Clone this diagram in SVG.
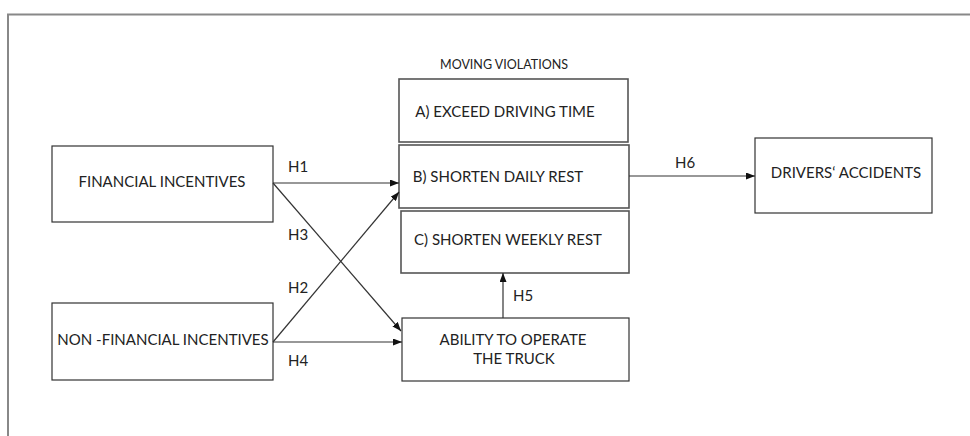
<svg xmlns="http://www.w3.org/2000/svg" width="970" height="436" viewBox="0 0 970 436">
<style>
.box{fill:#fff;stroke:#333;stroke-width:1.2}
.gbox{fill:#fff;stroke:#555;stroke-width:1.6}
.t{font-family:Lato,"Liberation Sans",sans-serif;font-size:15px;fill:#222}
.s{font-family:Lato,"Liberation Sans",sans-serif;font-size:12.5px;fill:#222}
.c{fill:none;stroke:#333;stroke-width:1.2}
</style>
<defs>
<marker id="ah" markerWidth="9" markerHeight="7" refX="9" refY="3.5" orient="auto" markerUnits="userSpaceOnUse">
<path d="M0,0 L9,3.5 L0,7 Z" fill="#111"/>
</marker>
</defs>
<rect width="970" height="436" fill="#fff"/>
<path d="M8,436 V14.5 H970" fill="none" stroke="#888" stroke-width="2"/>
<g id="financial">
<rect class="box" x="52" y="146" width="221" height="76"/>
<text class="t" x="162" y="187" text-anchor="middle">FINANCIAL INCENTIVES</text>
</g>
<g id="nonfinancial">
<rect class="box" x="52" y="303" width="221" height="77"/>
<text class="t" x="163" y="345" text-anchor="middle">NON -FINANCIAL INCENTIVES</text>
</g>
<g id="moving-violations">
<text class="s" x="504" y="69" text-anchor="middle">MOVING VIOLATIONS</text>
</g>
<g id="exceed">
<rect class="gbox" x="399" y="79" width="229" height="63"/>
<text class="t" x="505" y="117" text-anchor="middle">A) EXCEED DRIVING TIME</text>
</g>
<g id="daily">
<rect class="gbox" x="399" y="145" width="230" height="63"/>
<text class="t" x="498" y="182" text-anchor="middle">B) SHORTEN DAILY REST</text>
</g>
<g id="weekly">
<rect class="gbox" x="401" y="211" width="228" height="62"/>
<text class="t" x="508" y="245" text-anchor="middle">C) SHORTEN WEEKLY REST</text>
</g>
<g id="ability">
<rect class="box" x="402" y="318" width="227" height="63"/>
<text class="t" x="513" y="345" text-anchor="middle">ABILITY TO OPERATE</text>
<text class="t" x="514" y="364" text-anchor="middle">THE TRUCK</text>
</g>
<g id="accidents">
<rect class="box" x="755" y="138" width="177" height="75"/>
<text class="t" x="846" y="178" text-anchor="middle">DRIVERS‘ ACCIDENTS</text>
</g>
<g id="connectors">
<line class="c" x1="273" y1="183" x2="399" y2="183" marker-end="url(#ah)"/>
<line class="c" x1="273" y1="183" x2="401" y2="331" marker-end="url(#ah)"/>
<line class="c" x1="273" y1="342" x2="399" y2="192" marker-end="url(#ah)"/>
<line class="c" x1="273" y1="342" x2="402" y2="342" marker-end="url(#ah)"/>
<line class="c" x1="503" y1="318" x2="503" y2="273" marker-end="url(#ah)"/>
<line class="c" x1="629" y1="176" x2="755" y2="176" marker-end="url(#ah)"/>
<text class="t" x="288" y="172">H1</text>
<text class="t" x="288" y="240">H3</text>
<text class="t" x="288" y="293">H2</text>
<text class="t" x="288" y="366">H4</text>
<text class="t" x="513" y="301">H5</text>
<text class="t" x="675" y="168">H6</text>
</g>
</svg>
